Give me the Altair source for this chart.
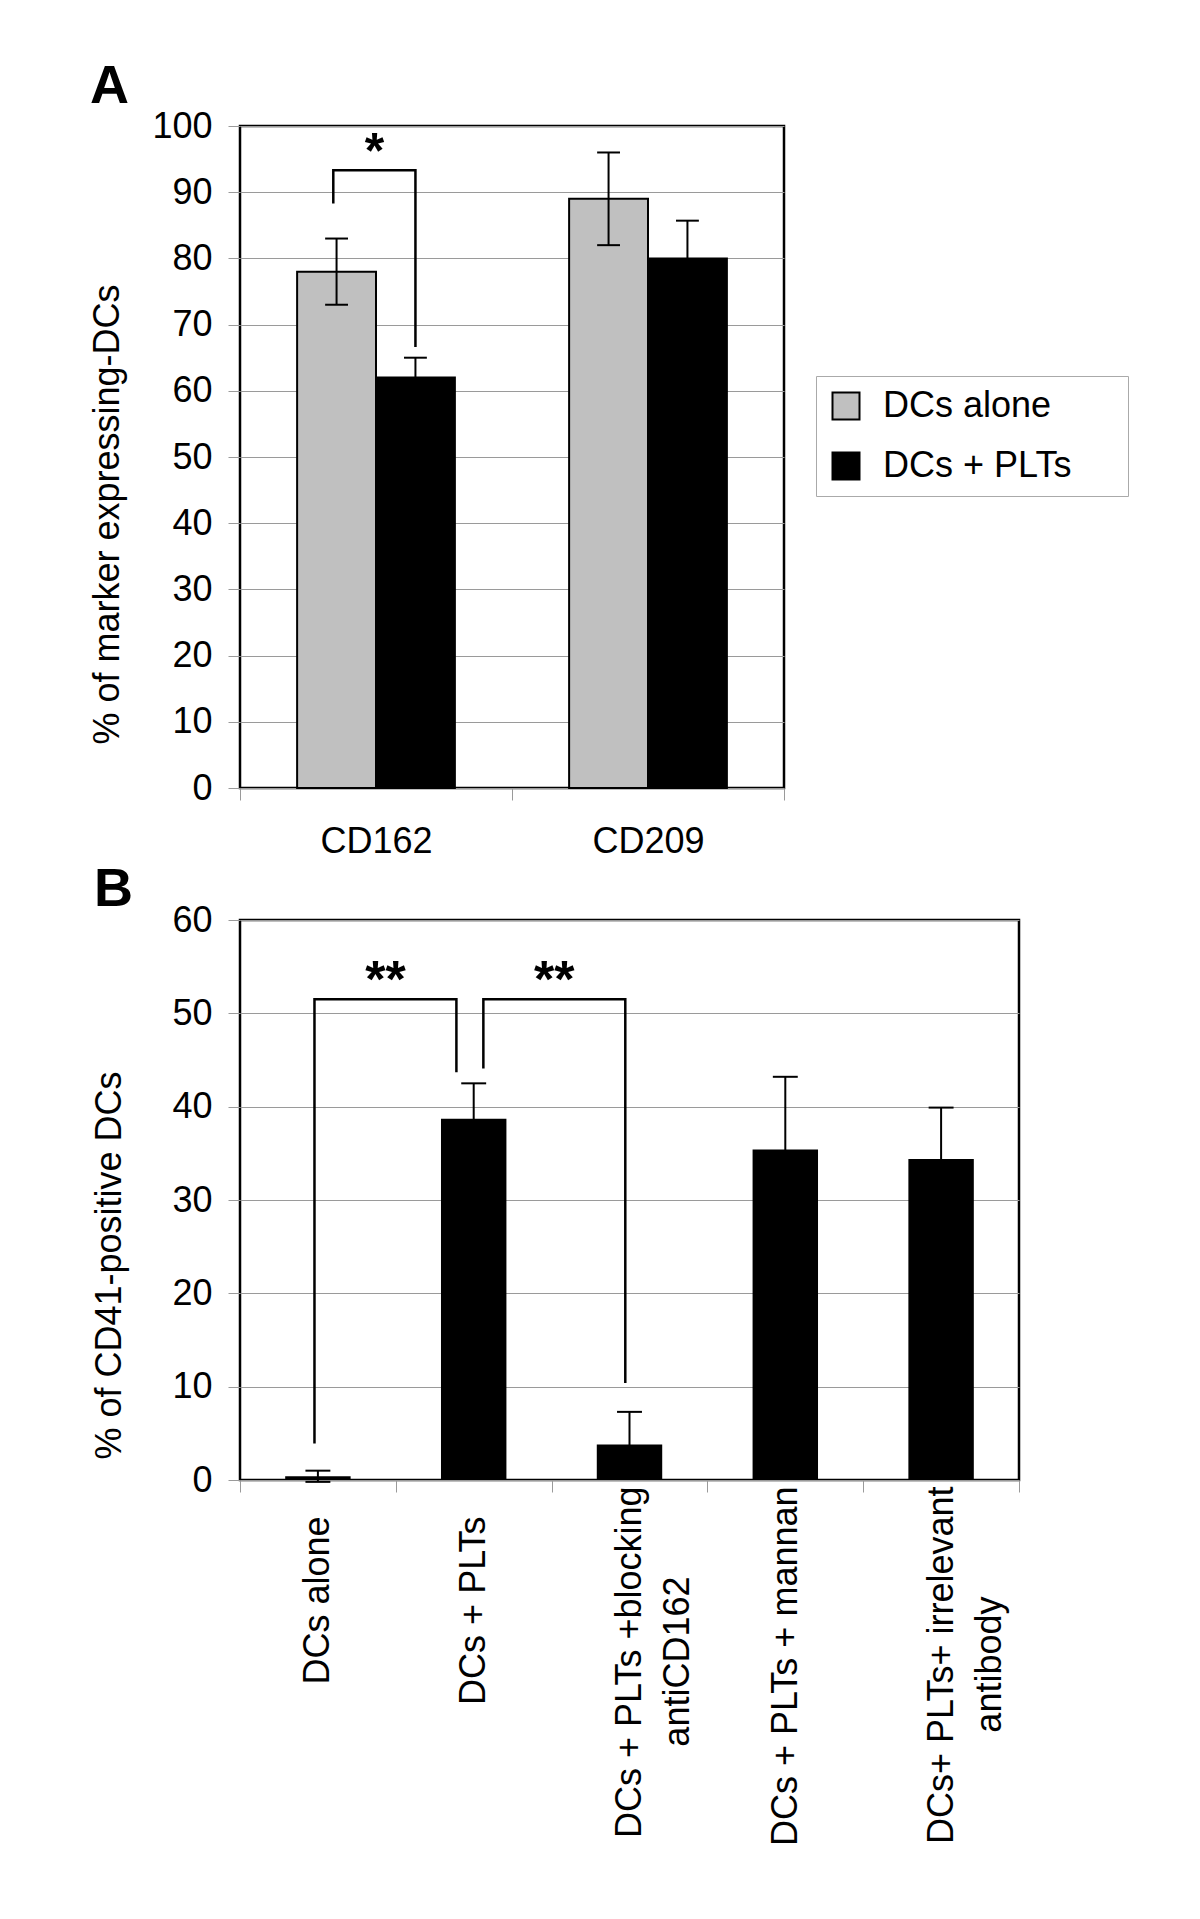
import json
import altair as alt
import pandas as pd

# ---------------- data ----------------
# Panel A
markers = ["CD162", "CD209"]
treatments = ["DCs alone", "DCs + PLTs"]
alone_vals = [78, 89]
alone_errs = [5, 7]
plts_vals = [62, 80]
plts_errs = [3, 5.7]
# significance bracket A (CD162: alone vs +PLTs)
a_bracket_top = 93.3
a_bracket_left_foot = 88.3
a_bracket_right_foot = 66.6
a_bracket_label = "*"

# Panel B
conditions = [
    "DCs alone",
    "DCs + PLTs",
    "DCs + PLTs +blocking|antiCD162",
    "DCs + PLTs + mannan",
    "DCs+ PLTs+ irrelevant|antibody",
]
cd41_vals = [0.4, 38.7, 3.8, 35.4, 34.4]
cd41_errs = [0.6, 3.8, 3.5, 7.8, 5.5]
# significance brackets B: (from condition, to condition)
b_pairs = [(0, 1), (1, 2)]
b_tops = [51.5, 51.5]
b_left_feet = [3.9, 44.1]
b_right_feet = [43.7, 10.4]
b_labels = ["**", "**"]

# ---------------- layout constants ----------------
FONT = "Liberation Sans"
BAR_A = 0.29        # bar width in band units (panel A)
CAP_A = 0.042       # half cap width (panel A)
BAR_B = 0.21        # half bar width (panel B)
CAP_B = 0.08        # half cap width (panel B)
A_LEFT_SHIFT = -0.012
B_LEFT_OFF = [-0.022, 0.062]
B_RIGHT_OFF = [-0.111, -0.027]
NBSP = "\u00a0"
ZWSP = "\u200b"
# trailing non-breaking spaces used to shift label lines along the rotated axis
LAST_LINE_PAD = {0: 3, 1: 3, 2: 9, 4: 11}
GRID = "#9a9a9a"

# ---------------- panel A ----------------
rows = []
for i, m in enumerate(markers):
    c = i + 0.5
    for g, vals, errs, sgn in [(treatments[0], alone_vals, alone_errs, -1),
                               (treatments[1], plts_vals, plts_errs, 1)]:
        xc = c + sgn * BAR_A / 2
        rows.append(dict(marker=m, group=g, val=vals[i], err=errs[i],
                         x0=min(c, c + sgn * BAR_A), x1=max(c, c + sgn * BAR_A),
                         xc=xc, lo=vals[i] - errs[i], hi=vals[i] + errs[i],
                         c0=xc - CAP_A, c1=xc + CAP_A))
dfa = pd.DataFrame(rows)

ax_x_a = alt.Axis(values=[0, 0.5, 1, 1.5, 2], grid=False, domain=False, title=None,
                  labelExpr="datum.value == 0.5 ? '%s' : datum.value == 1.5 ? '%s' : ''" % tuple(markers),
                  tickOpacity={"condition": {"test": "datum.value % 1 != 0", "value": 0}, "value": 1},
                  tickSize=12, tickColor=GRID, tickWidth=1, labelFontSize=36, labelPadding=24,
                  labelColor="black", labelFlush=False, labelOverlap=False)
ax_y_a = alt.Axis(values=list(range(0, 101, 10)), title="% of marker expressing-DCs",
                  titleFontSize=36, titleFontWeight="normal", titleColor="black", titleY=388,
                  titlePadding=25, labelFontSize=36, labelPadding=16, labelColor="black",
                  tickSize=12, tickColor=GRID, gridColor=GRID, domain=False)
xs_a = alt.Scale(domain=[0, 2], nice=False, zero=False)
ys_a = alt.Scale(domain=[0, 100], nice=False)


def XA(f):
    return alt.X(f, scale=xs_a, axis=ax_x_a, title=None)


def YA(f):
    return alt.Y(f, scale=ys_a, axis=ax_y_a, title="% of marker expressing-DCs")


bars_a = alt.Chart(dfa).mark_bar(stroke="black", strokeWidth=2).encode(
    x=XA("x0:Q"),
    x2="x1",
    y=YA("val:Q"),
    y2=alt.datum(0),
    color=alt.Color("group:N", scale=alt.Scale(domain=treatments, range=["#c0c0c0", "#000000"]),
                    legend=alt.Legend(orient="none", legendX=576, legendY=250, title=NBSP,
                                      titleOrient="right", titlePadding=45,
                                      symbolType="square", symbolSize=729,
                                      symbolStrokeColor="black", symbolStrokeWidth=2,
                                      labelFontSize=36, labelOffset=19, labelColor="black",
                                      padding=12, rowPadding=24, strokeColor="#aaaaaa",
                                      fillColor="white", labelLimit=400)),
)
err_a = alt.Chart(dfa).mark_rule(color="black", strokeWidth=2).encode(
    x=XA("xc:Q"), y=YA("lo:Q"), y2="hi")
cap_hi_a = alt.Chart(dfa).mark_rule(color="black", strokeWidth=2).encode(
    x=XA("c0:Q"), x2="c1", y=YA("hi:Q"))
cap_lo_a = alt.Chart(dfa).mark_rule(color="black", strokeWidth=2).encode(
    x=XA("c0:Q"), x2="c1", y=YA("lo:Q"))

bl = dfa.iloc[0]["xc"] + A_LEFT_SHIFT
br = dfa.iloc[1]["xc"]
dfa_br = pd.DataFrame(dict(x=[bl, bl, br, br],
                           y=[a_bracket_left_foot, a_bracket_top, a_bracket_top, a_bracket_right_foot],
                           o=[0, 1, 2, 3], b=[0] * 4))
br_a = alt.Chart(dfa_br).mark_line(color="black", strokeWidth=2.5).encode(
    x=XA("x:Q"), y=YA("y:Q"), order="o:Q", detail="b:N")
star_a = alt.Chart(pd.DataFrame(dict(x=[(bl + br) / 2], y=[a_bracket_top], t=[a_bracket_label]))).mark_text(
    fontSize=50, fontWeight="bold", baseline="alphabetic", align="center", dy=-2, color="black").encode(
    x=XA("x:Q"), y=YA("y:Q"), text="t:N")

panel_a = alt.layer(bars_a, err_a, cap_hi_a, cap_lo_a, br_a, star_a).properties(
    width=544, height=662,
    title=alt.TitleParams("A", anchor="start", frame="bounds", fontSize=54, fontWeight="bold",
                          color="black", offset=-6, dx=0))

# ---------------- panel B ----------------
label_texts = []
for i, lab in enumerate(conditions):
    pad = LAST_LINE_PAD.get(i, 0)
    if pad:
        lab = lab + NBSP * pad + ZWSP
    label_texts.append(lab)
labels_js = json.dumps(label_texts, ensure_ascii=False)

dfb = pd.DataFrame(dict(cond=conditions, val=cd41_vals, err=cd41_errs))
dfb["xc"] = [i + 0.5 for i in range(len(conditions))]
dfb["x0"] = dfb["xc"] - BAR_B
dfb["x1"] = dfb["xc"] + BAR_B
dfb["lo"] = dfb["val"] - dfb["err"]
dfb["hi"] = dfb["val"] + dfb["err"]
dfb["c0"] = dfb["xc"] - CAP_B
dfb["c1"] = dfb["xc"] + CAP_B

ax_x_b = alt.Axis(values=[k / 2 for k in range(0, 11)], grid=False, domain=False, title=None,
                  labelExpr="datum.value % 1 == 0.5 ? split(" + labels_js + "[floor(datum.value)], '|') : ''",
                  tickOpacity={"condition": {"test": "datum.value % 1 != 0", "value": 0}, "value": 1},
                  tickSize=12, tickColor=GRID, tickWidth=1, labelFontSize=36, labelAngle=270,
                  labelAlign="right", labelBaseline="middle", labelLineHeight=48,
                  labelPadding=-6, labelColor="black", labelFlush=False, labelOverlap=False,
                  labelLimit=1000)
ax_y_b = alt.Axis(values=list(range(0, 61, 10)), title="% of CD41-positive DCs",
                  titleFontSize=36, titleFontWeight="normal", titleColor="black", titleY=345,
                  titlePadding=43, labelFontSize=36, labelPadding=16, labelColor="black",
                  tickSize=12, tickColor=GRID, gridColor=GRID, domain=False)
xs_b = alt.Scale(domain=[0, 5], nice=False, zero=False)
ys_b = alt.Scale(domain=[0, 60], nice=False)


def XB(f):
    return alt.X(f, scale=xs_b, axis=ax_x_b, title=None)


def YB(f):
    return alt.Y(f, scale=ys_b, axis=ax_y_b, title="% of CD41-positive DCs")


bars_b = alt.Chart(dfb).mark_bar(color="black").encode(
    x=XB("x0:Q"), x2="x1", y=YB("val:Q"), y2=alt.datum(0))
err_b = alt.Chart(dfb).mark_rule(color="black", strokeWidth=2).encode(
    x=XB("xc:Q"), y=YB("lo:Q"), y2="hi")
cap_hi_b = alt.Chart(dfb).mark_rule(color="black", strokeWidth=2).encode(
    x=XB("c0:Q"), x2="c1", y=YB("hi:Q"))
cap_lo_b = alt.Chart(dfb).mark_rule(color="black", strokeWidth=2).encode(
    x=XB("c0:Q"), x2="c1", y=YB("lo:Q"))

brows, srows = [], []
for k, (i0, i1) in enumerate(b_pairs):
    xl = i0 + 0.5 + B_LEFT_OFF[k]
    xr = i1 + 0.5 + B_RIGHT_OFF[k]
    for o, (xx, yy) in enumerate([(xl, b_left_feet[k]), (xl, b_tops[k]),
                                  (xr, b_tops[k]), (xr, b_right_feet[k])]):
        brows.append(dict(x=xx, y=yy, o=o, b=k))
    srows.append(dict(x=(xl + xr) / 2, y=b_tops[k], t=b_labels[k]))
br_b = alt.Chart(pd.DataFrame(brows)).mark_line(color="black", strokeWidth=2.5).encode(
    x=XB("x:Q"), y=YB("y:Q"), order="o:Q", detail="b:N")
star_b = alt.Chart(pd.DataFrame(srows)).mark_text(
    fontSize=52, fontWeight="bold", baseline="alphabetic", align="center", dy=-2, color="black").encode(
    x=XB("x:Q"), y=YB("y:Q"), text="t:N")

panel_b = alt.layer(bars_b, err_b, cap_hi_b, cap_lo_b, br_b, star_b).properties(
    width=779, height=560,
    title=alt.TitleParams("B", anchor="start", frame="bounds", fontSize=54, fontWeight="bold",
                          color="black", offset=-15, dx=2))

chart = alt.vconcat(panel_a, panel_b, spacing=0).properties(
    padding={"left": 80, "top": 50, "right": 5, "bottom": 5}
).configure(font=FONT).configure_view(stroke="black", strokeWidth=2.5)

chart.save("out.html", embed_options={"renderer": "svg", "actions": False})
